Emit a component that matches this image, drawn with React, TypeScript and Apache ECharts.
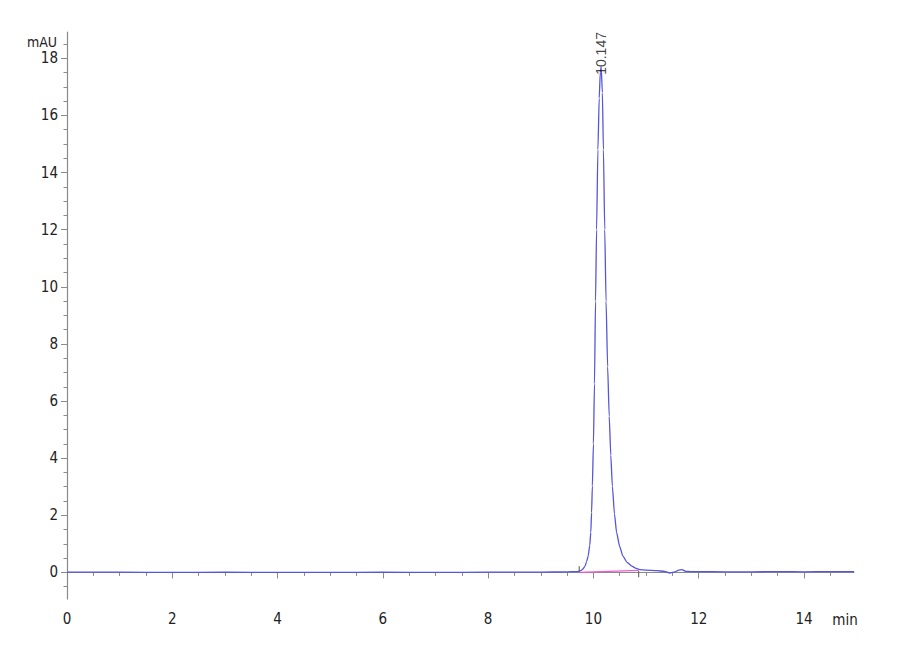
import React, { useEffect, useRef } from 'react';
import * as echarts from 'echarts';

// retention time (min) and detector signal (mAU)
const times = [
  0, 1, 2, 3, 4, 5, 6, 7, 8, 9, 9.5, 9.7, 9.76, 9.8, 9.84, 9.87, 9.9, 9.93, 9.95, 9.965, 9.98,
  10.0, 10.02, 10.04, 10.06, 10.085, 10.11, 10.13, 10.147, 10.17, 10.19, 10.215, 10.24, 10.27,
  10.3, 10.33, 10.36, 10.4, 10.44, 10.5, 10.56, 10.64, 10.73, 10.8, 10.88, 11.0, 11.2, 11.35,
  11.45, 11.55, 11.62, 11.68, 11.75, 11.85, 12, 12.5, 13, 13.5, 14, 14.5, 14.95,
];
const signal = [
  0.01, 0.01, 0.0, 0.01, 0.0, 0.0, 0.01, 0.0, 0.01, 0.01, 0.02, 0.03, 0.06, 0.12, 0.22, 0.38, 0.57, 0.95, 1.4, 2.1, 3.02,
  4.5, 6.6, 9.5, 12.0, 14.8, 16.6, 17.5, 17.7, 16.8, 14.8, 12.0, 9.5, 7.2,
  5.47, 4.1, 3.02, 2.05, 1.4, 0.9, 0.57, 0.35, 0.22, 0.15, 0.1, 0.08, 0.06, 0.04,
  -0.02, 0.02, 0.08, 0.1, 0.04, 0.03, 0.03, 0.02, 0.02, 0.03, 0.02, 0.03, 0.03,
];

// integration baseline and its start / end marks
const baselineStart = [9.73, 0.0];
const baselineEnd = [10.86, 0.07];
const startMark = [[9.73, 0.02], [9.73, 0.22]];
const endMark = [[10.86, 0.05], [10.86, -0.17]];

const peakTime = 10.147;
const peakHeight = 17.7;

const xMajorTicks = [0, 2, 4, 6, 8, 10, 12, 14];
const xMinorTicks = [0.5, 1, 1.5, 2.5, 3, 3.5, 4.5, 5, 5.5, 6.5, 7, 7.5, 8.5, 9, 9.5, 10.5, 11, 11.5, 12.5, 13, 13.5, 14.5];
const yMajorTicks = [0, 2, 4, 6, 8, 10, 12, 14, 16, 18];
const yMinorTicks = [-0.5, 0.5, 1, 1.5, 2.5, 3, 3.5, 4.5, 5, 5.5, 6.5, 7, 7.5, 8.5, 9, 9.5, 10.5, 11, 11.5, 12.5, 13, 13.5, 14.5, 15, 15.5, 16.5, 17, 17.5, 18.5];

const X_MIN = 0;
const X_MAX = 14.95;
const Y_MIN = -0.93;
const Y_MAX = 18.92;

const FONT = "'Liberation Sans Narrow', 'DejaVu Sans Condensed', 'Liberation Sans', sans-serif";
const AXIS_GREY = '#8a8a8a';

const App: React.FC = () => {
  const chartRef = useRef<HTMLDivElement>(null);

  useEffect(() => {
    const chart = echarts.init(chartRef.current!, undefined, { renderer: 'svg' });

    const options = {
      animation: false,
      backgroundColor: '#fff',
      grid: { left: 67, right: 46, top: 32, bottom: 61 },
      xAxis: [
        {
          type: 'value',
          min: X_MIN,
          max: X_MAX,
          position: 'bottom',
          name: 'min',
          nameLocation: 'end',
          nameGap: -9,
          nameTextStyle: {
            color: '#222',
            fontFamily: FONT,
            fontSize: 15,
            align: 'center',
            verticalAlign: 'top',
            padding: [40, 0, 0, 0],
          },
          splitLine: { show: false },
          axisLine: { lineStyle: { color: AXIS_GREY, width: 1.2 } },
          axisTick: { customValues: xMajorTicks, length: 6, lineStyle: { color: AXIS_GREY } },
          axisLabel: {
            customValues: xMajorTicks,
            margin: 12,
            color: '#222',
            fontFamily: FONT,
            fontSize: 15,
          },
        },
        {
          type: 'value',
          min: X_MIN,
          max: X_MAX,
          position: 'bottom',
          splitLine: { show: false },
          axisLine: { show: false },
          axisTick: { customValues: xMinorTicks, length: 3.5, lineStyle: { color: AXIS_GREY } },
          axisLabel: { show: false },
        },
      ],
      yAxis: [
        {
          type: 'value',
          min: Y_MIN,
          max: Y_MAX,
          position: 'left',
          name: 'mAU',
          nameLocation: 'end',
          nameGap: -10,
          nameTextStyle: {
            color: '#222',
            fontFamily: FONT,
            fontSize: 14,
            align: 'right',
            verticalAlign: 'middle',
            padding: [0, 10, 0, 0],
          },
          splitLine: { show: false },
          axisLine: { show: true, lineStyle: { color: AXIS_GREY, width: 1.2 } },
          axisTick: { show: true, customValues: yMajorTicks, length: 6, lineStyle: { color: AXIS_GREY } },
          axisLabel: {
            customValues: yMajorTicks,
            margin: 9,
            color: '#222',
            fontFamily: FONT,
            fontSize: 15,
          },
        },
        {
          type: 'value',
          min: Y_MIN,
          max: Y_MAX,
          position: 'left',
          splitLine: { show: false },
          axisLine: { show: false },
          axisTick: { show: true, customValues: yMinorTicks, length: 3.5, lineStyle: { color: AXIS_GREY } },
          axisLabel: { show: false },
        },
      ],
      series: [
        {
          // chromatogram trace
          type: 'line',
          xAxisIndex: 0,
          yAxisIndex: 0,
          data: times.map((t, i) => [t, signal[i]]),
          showSymbol: false,
          symbol: 'none',
          silent: true,
          smooth: 0.2,
          smoothMonotone: 'x',
          lineStyle: { color: '#5656dc', width: 1.3 },
          z: 3,
        },
        {
          // integration baseline
          type: 'line',
          data: [baselineStart, baselineEnd],
          symbol: 'none',
          silent: true,
          lineStyle: { color: '#ee5ccf', width: 1.2 },
          z: 4,
        },
        {
          type: 'line',
          data: startMark,
          symbol: 'none',
          silent: true,
          lineStyle: { color: '#555', width: 1 },
          z: 5,
        },
        {
          type: 'line',
          data: endMark,
          symbol: 'none',
          silent: true,
          lineStyle: { color: '#555', width: 1 },
          z: 5,
        },
        {
          // retention time label above the peak
          type: 'scatter',
          data: [[peakTime, peakHeight]],
          symbolSize: 0,
          silent: true,
          label: {
            show: true,
            position: 'top',
            distance: -8,
            rotate: 90,
            align: 'left',
            verticalAlign: 'middle',
            formatter: () => peakTime.toFixed(3),
            color: '#111',
            fontFamily: "'Liberation Sans', Arial, sans-serif",
            fontSize: 14,
          },
          z: 6,
        },
      ],
    };

    chart.setOption(options);

    return () => {
      chart.dispose();
    };
  }, []);

  return (
    <div
      ref={chartRef}
      style={{ position: 'fixed', left: 0, top: 0, width: '900px', height: '660px' }}
    />
  );
};

export default App;
